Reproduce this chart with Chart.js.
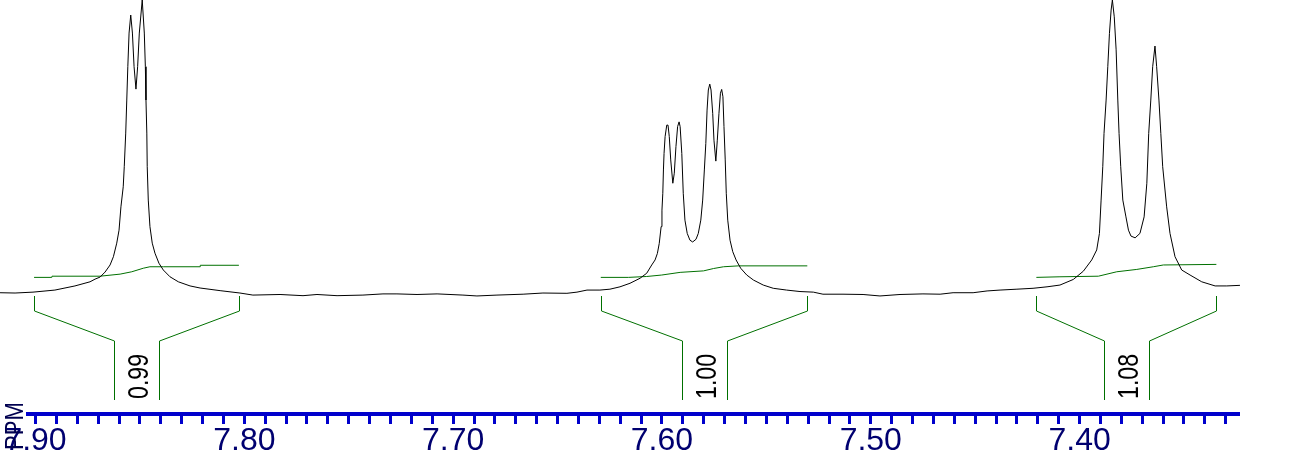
<!DOCTYPE html>
<html>
<head>
<meta charset="utf-8">
<title>NMR 7.32 - 7.92 ppm</title>
<script src="https://cdn.jsdelivr.net/npm/chart.js@4.4.1/dist/chart.umd.min.js"></script>
<style>
  html, body { margin: 0; padding: 0; background: #ffffff; }
  canvas { display: block; }
</style>
</head>
<body>
<canvas id="nmrChart" width="1292" height="472"></canvas>
<script>
// スペクトル (ppm / 相対強度、最大ピーク = 100)
const spectrumPpm = [
    7.9170, 7.9098, 7.9012, 7.8907, 7.8811, 7.8739, 7.8715, 7.8691, 7.8667, 7.8643,
    7.8627, 7.8611, 7.8600, 7.8591, 7.8580, 7.8575, 7.8568, 7.8563, 7.8558, 7.8552,
    7.8544, 7.8536, 7.8528, 7.8519, 7.8511, 7.8503, 7.8489, 7.8479, 7.8474, 7.8471,
    7.8467, 7.8465, 7.8460, 7.8452, 7.8441, 7.8428, 7.8409, 7.8388, 7.8356, 7.8316,
    7.8260, 7.8212, 7.8116, 7.8021, 7.7959,
    7.7829, 7.7719, 7.7652, 7.7556, 7.7432, 7.7336, 7.7269, 7.7173, 7.7077, 7.6953,
    7.6886, 7.6790, 7.6665, 7.6570, 7.6455, 7.6407, 7.6359,
    7.6297, 7.6249, 7.6201, 7.6153, 7.6105, 7.6073, 7.6049, 7.6033, 7.6022, 7.6013,
    7.6004, 7.6000, 7.5996, 7.5993, 7.5990, 7.5985, 7.5977, 7.5971, 7.5965, 7.5958,
    7.5948, 7.5941, 7.5933, 7.5925, 7.5918, 7.5913, 7.5905, 7.5898, 7.5890, 7.5879,
    7.5866, 7.5853, 7.5837, 7.5826, 7.5814, 7.5805, 7.5797, 7.5790, 7.5784, 7.5778,
    7.5771, 7.5765, 7.5757, 7.5751, 7.5742, 7.5735, 7.5727, 7.5720, 7.5714, 7.5708,
    7.5703, 7.5697, 7.5692, 7.5685, 7.5674, 7.5661, 7.5645, 7.5623, 7.5594, 7.5562,
    7.5515, 7.5467, 7.5403, 7.5339, 7.5275,
    7.5229, 7.5133, 7.5037, 7.4956, 7.4860, 7.4750, 7.4668, 7.4606, 7.4510, 7.4443,
    7.4381, 7.4300, 7.4223, 7.4156, 7.4094,
    7.4030, 7.3982, 7.3942, 7.3918, 7.3905, 7.3897, 7.3889, 7.3883, 7.3873, 7.3865,
    7.3857, 7.3849, 7.3843, 7.3834, 7.3825, 7.3817, 7.3811, 7.3803, 7.3793, 7.3778,
    7.3766, 7.3754, 7.3734, 7.3711, 7.3691, 7.3678, 7.3669, 7.3659, 7.3650, 7.3639,
    7.3631, 7.3620, 7.3611, 7.3602, 7.3583, 7.3567, 7.3543, 7.3511, 7.3471, 7.3415,
    7.3351, 7.3295, 7.3232
];
const spectrumIntensity = [
    0.8, 0.7, 1.0, 1.7, 3.1, 4.5, 5.4, 6.1, 7.8, 10.2,
    13.0, 17.6, 22.0, 29.9, 36.7, 43.5, 54.9, 66.1, 77.4, 88.8,
    94.9, 88.8, 77.4, 69.8, 77.4, 88.8, 100, 88.8, 77.4, 66.1,
    54.9, 43.5, 32.2, 23.2, 17.6, 14.2, 10.8, 8.5, 6.2, 4.5,
    3.1, 2.4, 1.5, 0.7, 0.0,
    0.2, -0.2, 0.2, -0.2, 0.0, 0.4, 0.4, 0.2, 0.4, 0.0,
    -0.3, 0.0, 0.3, 0.7, 0.6, 1.0, 1.7,
    1.7, 2.0, 2.8, 4.0, 5.7, 7.4, 10.2, 11.9, 14.1, 17.5,
    23.2, 28.8, 34.5, 42.4, 48.0, 53.7, 57.6, 57.6, 53.7, 45.8,
    37.9, 41.3, 50.3, 57.1, 58.7, 57.1, 48.0, 34.5, 25.4, 20.9,
    18.6, 18.0, 18.9, 20.9, 25.4, 32.2, 42.4, 51.4, 62.7, 69.5,
    71.5, 69.5, 61.6, 52.5, 45.4, 52.5, 61.6, 68.4, 69.7, 67.2,
    57.1, 45.8, 34.5, 25.4, 18.6, 14.7, 11.9, 9.1, 6.8, 5.1,
    3.4, 2.3, 1.7, 1.2, 1.0,
    0.3, 0.3, 0.2, -0.3, 0.2, 0.4, 0.3, 0.8, 0.8, 1.4,
    1.7, 2.0, 2.3, 2.8, 3.4,
    5.3, 8.1, 11.9, 15.3, 20.9, 32.2, 43.5, 54.8, 66.1, 77.4,
    88.7, 96.6, 100, 94.3, 83.1, 66.1, 54.8, 43.5, 32.2, 26.5,
    22.0, 20.0, 19.4, 20.9, 26.5, 37.9, 54.8, 66.1, 77.4, 84.4,
    77.4, 66.1, 54.8, 43.5, 29.9, 20.9, 13.0, 8.5, 6.8, 4.5,
    3.1, 3.1, 3.3
];

// 積分曲線
const integral1Ppm = [7.9007, 7.8922, 7.8921, 7.8691, 7.8595, 7.8539, 7.8484, 7.8452, 7.8388, 7.8212, 7.8211, 7.8026];
const integral1Level = [6.0, 6.0, 6.4, 6.4, 7.1, 7.9, 9.1, 9.6, 9.6, 9.6, 10.1, 10.1];
const integral2Ppm = [7.6293, 7.6161, 7.6073, 7.6001, 7.5913, 7.5801, 7.5753, 7.5705, 7.5634, 7.5304];
const integral2Level = [6.0, 6.0, 6.3, 6.8, 7.7, 8.2, 9.0, 9.6, 9.9, 9.9];
const integral3Ppm = [7.4207, 7.4094, 7.3910, 7.3822, 7.3726, 7.3647, 7.3599, 7.3345];
const integral3Level = [6.0, 6.2, 6.4, 7.9, 8.7, 9.6, 10.2, 10.4];

// 積分範囲と値
const integralStart = [7.9007, 7.6293, 7.4207];
const integralEnd = [7.8026, 7.5304, 7.3345];
const integralValues = ['0.99', '1.00', '1.08'];

// 目盛りラベル
const tickLabels = ['7.90', '7.80', '7.70', '7.60', '7.50', '7.40'];

const toPoints = (xs, ys) => xs.map((v, i) => ({ x: v, y: ys[i] }));

const labelFont = '"Liberation Sans", Arial, sans-serif';

// 積分ブラケット + 値 + PPM
const integralMarks = {
    id: 'integralMarks',
    afterDatasetsDraw(chart) {
        const ctx = chart.ctx;
        const xs = chart.scales.x;
        const y0 = Math.round(chart.scales.y.getPixelForValue(0));

        ctx.save();
        ctx.strokeStyle = '#007000';
        ctx.lineWidth = 1;
        integralStart.forEach((from, i) => {
            const xl = Math.round(xs.getPixelForValue(from)) + 0.5;
            const xr = Math.round(xs.getPixelForValue(integralEnd[i])) + 0.5;
            const xc = Math.round((xl + xr) / 2);
            ctx.beginPath();
            ctx.moveTo(xl, y0 + 1);
            ctx.lineTo(xl, y0 + 16);
            ctx.lineTo(xc - 22.5, y0 + 46);
            ctx.lineTo(xc - 22.5, y0 + 105);
            ctx.moveTo(xr, y0 + 1);
            ctx.lineTo(xr, y0 + 16);
            ctx.lineTo(xc + 22.5, y0 + 46);
            ctx.lineTo(xc + 22.5, y0 + 105);
            ctx.stroke();

            ctx.save();
            ctx.translate(xc + 10.5, y0 + 104);
            ctx.rotate(-Math.PI / 2);
            ctx.scale(0.8, 1);
            ctx.fillStyle = '#000000';
            ctx.font = '29px ' + labelFont;
            ctx.textAlign = 'left';
            ctx.textBaseline = 'alphabetic';
            ctx.fillText(integralValues[i], 0, 0);
            ctx.restore();
        });
        ctx.restore();
    },
    afterDraw(chart) {
        const ctx = chart.ctx;
        const xs = chart.scales.x;
        ctx.save();
        ctx.translate(xs.left - 5, xs.top + 36);
        ctx.rotate(-Math.PI / 2);
        ctx.scale(0.85, 1);
        ctx.fillStyle = '#000050';
        ctx.font = '26px ' + labelFont;
        ctx.textAlign = 'left';
        ctx.textBaseline = 'alphabetic';
        ctx.fillText('PPM', 0, 0);
        ctx.restore();
    }
};

const integralStyle = {
    borderColor: '#007000',
    borderWidth: 1,
    pointRadius: 0,
    tension: 0,
    clip: false
};

new Chart(document.getElementById('nmrChart').getContext('2d'), {
    type: 'line',
    data: {
        datasets: [
            {
                label: 'spectrum',
                data: toPoints(spectrumPpm, spectrumIntensity),
                borderColor: '#000000',
                borderWidth: 1,
                pointRadius: 0,
                tension: 0,
                clip: false
            },
            Object.assign({ label: 'integral 1', data: toPoints(integral1Ppm, integral1Level) }, integralStyle),
            Object.assign({ label: 'integral 2', data: toPoints(integral2Ppm, integral2Level) }, integralStyle),
            Object.assign({ label: 'integral 3', data: toPoints(integral3Ppm, integral3Level) }, integralStyle)
        ]
    },
    options: {
        responsive: false,
        animation: false,
        events: [],
        layout: { padding: { left: 28, right: 53.5, top: 0, bottom: 14 } },
        scales: {
            x: {
                type: 'linear',
                reverse: true,
                min: 7.3239,
                max: 7.9036,
                grid: {
                    drawOnChartArea: false,
                    drawTicks: true,
                    tickLength: 10,
                    color: '#0000cc',
                    lineWidth: 3
                },
                border: { display: true, color: '#0000cc', width: 4 },
                ticks: {
                    stepSize: 0.01,
                    includeBounds: false,
                    autoSkip: false,
                    maxRotation: 0,
                    minRotation: 0,
                    padding: 1,
                    color: '#000070',
                    font: { family: labelFont, size: 32, lineHeight: 1 },
                    callback: function (value) {
                        const s = Number(value).toFixed(2);
                        return tickLabels.includes(s) ? s : '';
                    }
                }
            },
            y: {
                display: false,
                min: -40.3,
                max: 100
            }
        },
        plugins: {
            legend: { display: false },
            tooltip: { enabled: false }
        }
    },
    plugins: [integralMarks]
});
</script>
</body>
</html>
